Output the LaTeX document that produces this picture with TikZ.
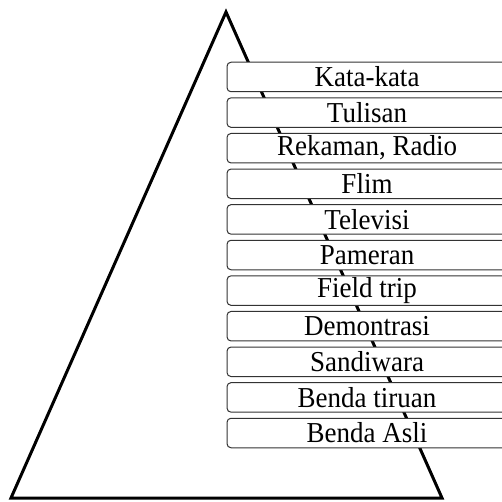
\documentclass[tikz,border=0pt]{standalone}
\usepackage{fontspec}
\setmainfont{Liberation Serif}
\begin{document}
\begin{tikzpicture}[x=1pt,y=-1pt,
  tri/.style={draw=black,line width=3pt,line join=miter},
  level/.style={draw=black!80,line width=1pt,fill=white,rounded corners=4pt,
    minimum width=280pt,minimum height=29.5pt,inner sep=0pt,
    font=\fontsize{27}{27}\selectfont,text=black,anchor=center}]
\useasboundingbox (0,0) rectangle (502,502);
\clip (0,0) rectangle (502,502);
\coordinate (apex) at (226,12);
\coordinate (bl) at (11,498);
\coordinate (br) at (442,498);
\draw[tri] (apex) -- (br) -- (bl) -- cycle;
\foreach \t [count=\i from 0] in {Kata-kata,Tulisan,{Rekaman, Radio},Flim,Televisi,Pameran,Field trip,Demontrasi,Sandiwara,Benda tiruan,Benda Asli}{
  \node[level] (b\i) at (367,{77+35.6*\i}) {\scalebox{1}[1.07]{\t}};
}
\end{tikzpicture}
\end{document}
